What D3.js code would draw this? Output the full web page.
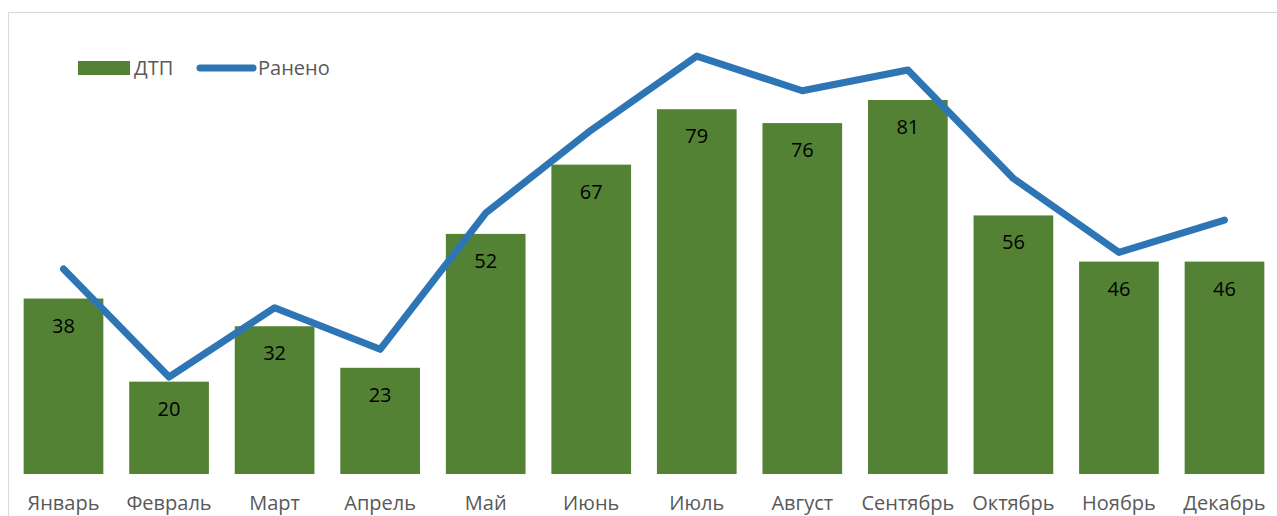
<!DOCTYPE html>
<html>
<head>
<meta charset="utf-8">
<script src="https://cdn.jsdelivr.net/npm/d3@7"></script>
<style>
  body { margin: 0; background: #fff; }
  text { font-family: "Open Sans", "Noto Sans", sans-serif; }
</style>
</head>
<body>
<div id="chart"></div>
<script>
var months = ["Январь", "Февраль", "Март", "Апрель", "Май", "Июнь", "Июль", "Август", "Сентябрь", "Октябрь", "Ноябрь", "Декабрь"];
var accidents = [38, 20, 32, 23, 52, 67, 79, 76, 81, 56, 46, 46];
var injured = [44.4, 21, 36, 27, 56.5, 74.5, 90.5, 83, 87.5, 64, 48, 55];

var width = 1277,
  height = 516;

var svg = d3.select("#chart")
  .append("svg")
  .attr("width", width)
  .attr("height", height)

// chart frame
svg.append("rect")
  .attr("x", 8.5)
  .attr("y", 12.5)
  .attr("width", width)
  .attr("height", height)
  .attr("fill", "none")
  .attr("stroke", "#d9d9d9")

var x = d3.scaleBand()
  .domain(months)
  .range([11, 1277])
  .paddingInner(0.245)
  .paddingOuter(0.12)

var y = d3.scaleLinear()
  .domain([0, 81])
  .range([474, 100])

svg.selectAll(".bar")
  .data(accidents)
  .enter().append("rect")
  .attr("class", "bar")
  .attr("x", function(d, i) { return x(months[i]) })
  .attr("width", x.bandwidth())
  .attr("y", function(d) { return y(d) })
  .attr("height", function(d) { return y(0) - y(d) })
  .attr("fill", "#548235")

svg.selectAll(".val")
  .data(accidents)
  .enter().append("text")
  .attr("class", "val")
  .attr("x", function(d, i) { return x(months[i]) + x.bandwidth() / 2 })
  .attr("y", function(d) { return y(d) + 34 })
  .attr("text-anchor", "middle")
  .attr("font-size", 20)
  .attr("fill", "#000")
  .text(function(d) { return d })

var line = d3.line()
  .x(function(d, i) { return x(months[i]) + x.bandwidth() / 2 })
  .y(function(d) { return y(d) })

svg.append("path")
  .datum(injured)
  .attr("d", line)
  .attr("fill", "none")
  .attr("stroke", "#2e75b6")
  .attr("stroke-width", 7)
  .attr("stroke-linecap", "round")
  .attr("stroke-linejoin", "round")

var xAxis = svg.append("g")
  .attr("transform", "translate(0,474)")
  .call(d3.axisBottom(x).tickSize(0).tickPadding(22))
xAxis.select(".domain").remove()
xAxis.selectAll("text")
  .attr("font-size", 20)
  .attr("fill", "#595959")
  .style("font-family", "'Open Sans', sans-serif")

// legend
var legend = svg.append("g")
legend.append("rect")
  .attr("x", 78).attr("y", 61).attr("width", 52).attr("height", 14)
  .attr("fill", "#548235")
legend.append("text")
  .attr("x", 134).attr("y", 75)
  .attr("font-size", 20).attr("fill", "#595959")
  .text("ДТП")
legend.append("line")
  .attr("x1", 200).attr("x2", 253).attr("y1", 68).attr("y2", 68)
  .attr("stroke", "#2e75b6").attr("stroke-width", 7)
  .attr("stroke-linecap", "round")
legend.append("text")
  .attr("x", 258).attr("y", 75)
  .attr("font-size", 20).attr("fill", "#595959")
  .text("Ранено")
</script>
</body>
</html>
